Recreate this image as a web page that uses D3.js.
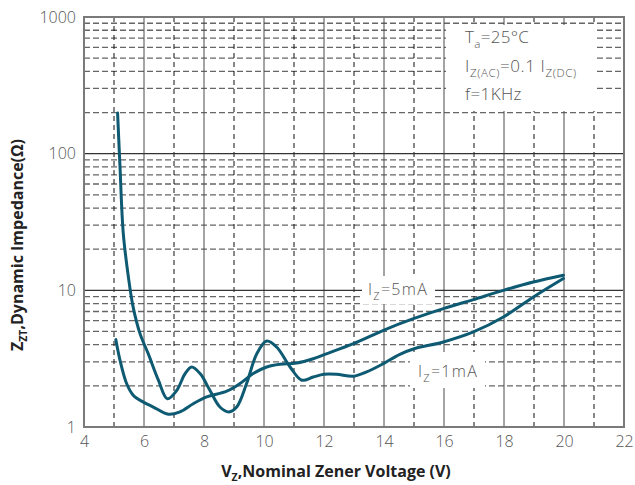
<!DOCTYPE html>
<html><head><meta charset="utf-8">
<script src="https://cdn.jsdelivr.net/npm/d3@7"></script>
<style>
html,body{margin:0;padding:0;background:#fff;}
svg{display:block;}
text{font-family:"Open Sans","DejaVu Sans",sans-serif;}
</style></head>
<body>
<svg id="c" width="635" height="485"></svg>
<script>
// ---- data ----
const xTicks = [4,6,8,10,12,14,16,18,20,22];
const yTicks = [1,10,100,1000];
// I_Z = 1mA
const vz1mA = [5.12,5.2,5.31,5.48,5.64,5.87,6.14,6.48,6.78,7.09,7.37,7.59,7.87,8.2,8.53,8.83,9.09,9.42,9.76,10.09,10.42,10.87,11.26,11.64,12.0,12.42,12.98,13.42,13.98,14.53,15.03,15.98,16.98,17.98,18.98,19.98];
const zz1mA = [198,80,26,12.5,7.5,4.8,3.44,2.2,1.61,1.85,2.46,2.75,2.46,1.85,1.40,1.29,1.40,2.08,3.44,4.26,3.85,2.75,2.2,2.32,2.43,2.43,2.35,2.53,2.91,3.40,3.75,4.19,4.96,6.38,8.94,12.2];
// I_Z = 5mA
const vz5mA = [5.06,5.2,5.42,5.64,5.98,6.31,6.81,7.2,7.64,8.09,8.76,9.2,9.64,10.09,10.53,11.09,11.64,12.03,12.98,13.98,14.98,15.98,16.98,17.98,18.98,19.98];
const zz5mA = [4.36,3.08,2.08,1.71,1.52,1.40,1.24,1.29,1.48,1.66,1.83,2.08,2.46,2.75,2.88,2.94,3.16,3.4,4.07,5.1,6.2,7.35,8.56,10,11.5,12.9];

const svg = d3.select("#c");
const L=84, R=624, T=17, B=427;
const x = d3.scaleLinear().domain([4,22]).range([L,R]);
const y = d3.scaleLog().domain([1,1000]).range([B,T]);

// grid
const g = svg.append("g");
const minors=[];
for(let d=1; d<1000; d*=10) for(let k=2;k<=9;k++) minors.push(d*k);
g.selectAll(".hm").data(minors).join("line")
 .attr("x1",L).attr("x2",R).attr("y1",d=>y(d)).attr("y2",d=>y(d))
 .attr("stroke","#666").attr("stroke-width",1.3).attr("stroke-dasharray","6,3");
const vlines=d3.range(5,22);
g.selectAll(".v").data(vlines).join("line")
 .attr("x1",d=>x(d)).attr("x2",d=>x(d)).attr("y1",T).attr("y2",B)
 .attr("stroke",d=>d%2===0?"#4a4a4a":"#111")
 .attr("stroke-width",1)
 .attr("stroke-dasharray",d=>d%2===0?null:"5,4");
g.selectAll(".hd").data([10,100]).join("line")
 .attr("x1",L).attr("x2",R).attr("y1",d=>y(d)).attr("y2",d=>y(d))
 .attr("stroke","#333").attr("stroke-width",1.2);

// white boxes
svg.append("rect").attr("x",446).attr("y",25).attr("width",150).attr("height",86).attr("fill","#fff");
svg.append("rect").attr("x",362).attr("y",276).attr("width",73).attr("height",28).attr("fill","#fff");
svg.append("rect").attr("x",410).attr("y",352).attr("width",75).attr("height",36).attr("fill","#fff");

// border
svg.append("rect").attr("x",L).attr("y",T).attr("width",R-L).attr("height",B-T)
 .attr("fill","none").attr("stroke","#7a7a7a").attr("stroke-width",2);

// curves
const line = d3.line().x(d=>x(d[0])).y(d=>y(d[1])).curve(d3.curveCatmullRom.alpha(0.5));
const s1 = vz1mA.map((v,i)=>[v,zz1mA[i]]);
const s5 = vz5mA.map((v,i)=>[v,zz5mA[i]]);
[s1,s5].forEach(s=>{
  svg.append("path").attr("d",line(s)).attr("fill","none")
   .attr("stroke","#0d5a72").attr("stroke-width",3).attr("stroke-linecap","round").attr("stroke-linejoin","round");
});

// axes
const ax = svg.append("g").attr("transform",`translate(0,${B})`)
 .call(d3.axisBottom(x).tickValues(xTicks).tickSize(0).tickPadding(9).tickFormat(d3.format("d")));
ax.select(".domain").remove();
ax.selectAll("text").attr("font-size",16).attr("font-weight",300).attr("fill","#555").attr("font-family","'Open Sans','DejaVu Sans',sans-serif");
const ay = svg.append("g").attr("transform",`translate(${L},0)`)
 .call(d3.axisLeft(y).tickValues(yTicks).tickSize(0).tickPadding(8).tickFormat(d3.format("d")));
ay.select(".domain").remove();
ay.selectAll("text").attr("font-size",16).attr("font-weight",300).attr("fill","#555").attr("font-family","'Open Sans','DejaVu Sans',sans-serif");

// axis titles
const xt = svg.append("text").attr("x",336).attr("y",477).attr("text-anchor","middle")
 .attr("font-size",16).attr("font-weight",700).attr("fill","#222");
xt.append("tspan").text("V");
xt.append("tspan").attr("font-size",10.5).attr("dy",4).text("Z");
xt.append("tspan").attr("dy",-4).text(",Nominal Zener Voltage (V)");

const yt = svg.append("text").attr("transform","translate(23,245) rotate(-90)").attr("text-anchor","middle")
 .attr("font-size",16).attr("font-weight",700).attr("fill","#222");
yt.append("tspan").text("Z");
yt.append("tspan").attr("font-size",10.5).attr("dy",4).text("ZT");
yt.append("tspan").attr("dy",-4).text(",Dynamic Impedance(Ω)");

// annotations
function sub(x0, y0, parts, fs, ls){
  const el = svg.append("text").attr("x",x0).attr("y",y0).attr("font-size",fs).attr("font-weight",300)
    .attr("fill","#555").attr("letter-spacing",ls||0);
  let shift=0;
  parts.forEach(p=>{
    const ts = el.append("tspan").text(p[0]);
    if(p[1]){ ts.attr("font-size",fs*0.68).attr("dy",5-shift); shift=5; }
    else { ts.attr("dy",-shift); shift=0; }
  });
  return el;
}
sub(465,43,[["T"],["a",1],["=25°C"]],17,0.3);
sub(465,72,[["I"],["Z(AC)",1],["=0.1 I"],["Z(DC)",1]],17,0.6);
sub(465,100,[["f=1KHz"]],17,0.4);
sub(368,295,[["I"],["Z",1],["=5mA"]],16,1.3);
sub(418,377,[["I"],["Z",1],["=1mA"]],16,1.3);
</script>
</body></html>
